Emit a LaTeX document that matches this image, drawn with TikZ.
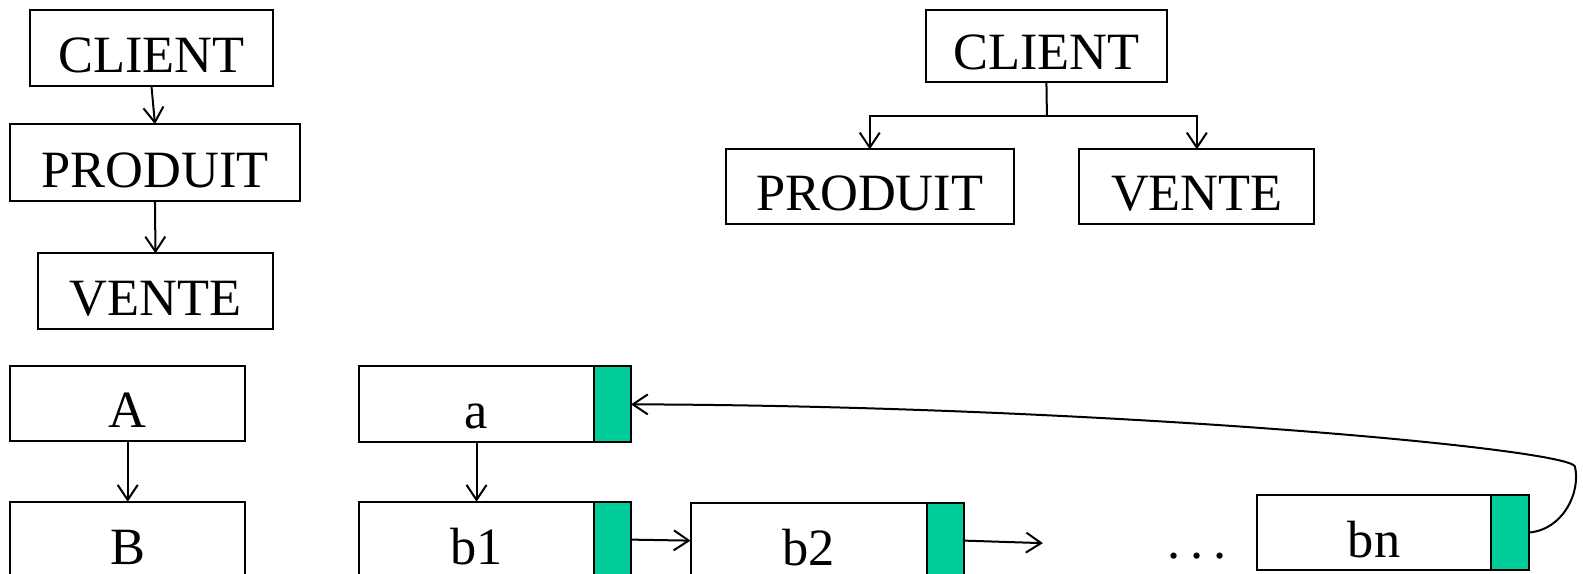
\documentclass[tikz,border=0pt]{standalone}
\usepackage{fontspec}
\setmainfont{Liberation Serif}
\usetikzlibrary{positioning,arrows.meta}
\definecolor{ptrgreen}{RGB}{0,204,153}
\tikzset{
	box/.style={draw, line width=1pt, inner sep=0pt, outer sep=0pt, text depth=6.7pt, text height=31.2pt, font=\fontsize{26.2}{30}\selectfont},
	ptr/.style={draw, line width=1pt, fill=ptrgreen, inner sep=0pt, outer sep=0pt, minimum width=18.7pt, minimum height=37.9pt},
	link/.style={line width=1pt, -{Straight Barb[length=7.5pt,width=10pt]}}
}
\begin{document}
\begin{tikzpicture}[x=0.5048pt, y=-0.5048pt]
		\useasboundingbox (0,0) rectangle (1568,568.5);
		\clip (0,0) rectangle (1568,568.5);
		% BLOCKS (chain)
		\node[box, minimum width=121.2pt] (cl1) at (150,47.5) {CLIENT};
		\node[box, minimum width=144.9pt, text height=31.7pt] (pr1) at (153.5,161) {PRODUIT};
		\node[box, minimum width=117.1pt] (vt1) at (154,288.5) {VENTE};
		
		% BLOCKS (tree)
		\node[box, minimum width=120.6pt, text depth=6pt, text height=29.8pt] (cl2) at (1036.5,45.5) {CLIENT};
		\node[box, minimum width=143.9pt, text height=30.7pt] (pr2) at (861.5,185) {PRODUIT};
		\node[box, minimum width=117.6pt, text height=30.7pt] (vt2) at (1185.5,185) {VENTE};
		\coordinate (fork) at (1037,115);
		
		% BLOCKS (lists)
		\node[box, minimum width=117.6pt, text height=30.7pt] (A) at (126.5,400) {A};
		\node[box, minimum width=117.6pt] (B) at (126.5,534.5) {B};
		\node[box, minimum width=117.1pt] (a) at (472,400.5) {a};
		\node[ptr, right=0pt of a] (ap) {};
		\node[box, minimum width=117.1pt] (b1) at (472,534.5) {b1};
		\node[ptr, right=0pt of b1] (b1p) {};
		\node[box, minimum width=118.1pt] (b2) at (801,535.5) {b2};
		\node[ptr, right=0pt of b2] (b2p) {};
		\node[box, minimum width=117.1pt] (bn) at (1361,527.5) {bn};
		\node[ptr, right=0pt of bn] (bnp) {};
		\node[anchor=base, font=\fontsize{26.2}{30}\selectfont] (dots) at (1186,553) {.\hspace{0.19em}.\hspace{0.19em}.};
		\coordinate (open) at (1033,538);
		
		% ARROWS
		\draw[link] (cl1.south) -- (pr1.north);
		\draw[link] (pr1.south) -- (vt1.north);
		\draw[line width=1pt] (cl2.south) -- (fork);
		\draw[link] (fork) -| (pr2.north);
		\draw[link] (fork) -| (vt2.north);
		\draw[link] (A.south) -- (B.north);
		\draw[link] (a.south) -- (b1.north);
		\draw[link] (b1p.east) -- (b2.west);
		\draw[link] (b2p.east) -- (open);
		\draw[link] (bnp.east) .. controls (1548,525) and (1566,488) .. (1560,462)
			.. controls (1552,444) and (1090,402) .. (ap.east);
	\end{tikzpicture}
\end{document}
